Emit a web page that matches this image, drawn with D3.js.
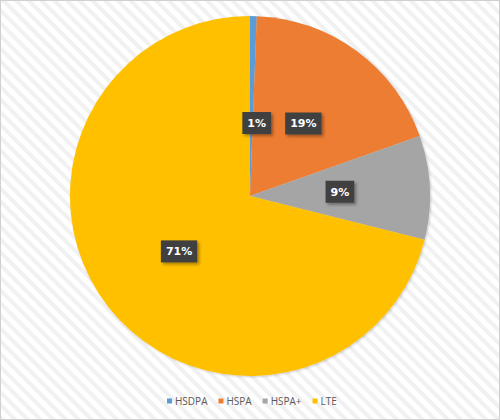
<!DOCTYPE html>
<html>
<head>
<meta charset="utf-8">
<script src="https://cdn.jsdelivr.net/npm/d3@7"></script>
<style>
  body { margin: 0; background: #fff; }
  #chart { width: 500px; height: 420px; }
</style>
</head>
<body>
<div id="chart"></div>
<script>
/*global d3*/

// network technology share
var categories = ["HSDPA", "HSPA", "HSPA+", "LTE"];
var values = [0.6, 19.0, 9.3, 71.1];
var colors = ["#5B9BD5", "#ED7D31", "#A5A5A5", "#FFC000"];

var width = 500,
  height = 420,
  cx = 250,
  cy = 196,
  r = 180;

var data = categories.map(function(c, i) {
  return {name: c, value: values[i], color: colors[i]};
});
var total = d3.sum(values);

var svg = d3.select("#chart").append("svg")
  .attr("width", width)
  .attr("height", height);

var defs = svg.append("defs");

// diagonal striped background
var pat = defs.append("pattern")
  .attr("id", "stripes")
  .attr("patternUnits", "userSpaceOnUse")
  .attr("width", 9)
  .attr("height", 9)
  .attr("patternTransform", "rotate(-45)");
pat.append("rect").attr("width", 9).attr("height", 9).attr("fill", "#ffffff");
pat.append("rect").attr("width", 4).attr("height", 9).attr("fill", "#f1f1f1");

var shadow = defs.append("filter").attr("id", "lblshadow")
  .attr("x", "-30%").attr("y", "-30%").attr("width", "170%").attr("height", "170%");
shadow.append("feDropShadow")
  .attr("dx", 2).attr("dy", 2).attr("stdDeviation", 1.5)
  .attr("flood-color", "#000").attr("flood-opacity", 0.35);

var pieShadow = defs.append("filter").attr("id", "pieshadow")
  .attr("x", "-10%").attr("y", "-10%").attr("width", "120%").attr("height", "120%");
pieShadow.append("feDropShadow")
  .attr("dx", 1).attr("dy", 1).attr("stdDeviation", 1.2)
  .attr("flood-color", "#000").attr("flood-opacity", 0.2);

svg.append("rect")
  .attr("x", 0.5).attr("y", 0.5)
  .attr("width", width - 1).attr("height", height - 1)
  .attr("fill", "url(#stripes)")
  .attr("stroke", "#d0d0d0");

var g = svg.append("g")
  .attr("transform", "translate(" + cx + "," + cy + ")");

var pie = d3.pie().sort(null).value(function(d) { return d.value; });
var arc = d3.arc().innerRadius(0).outerRadius(r);
var labelArc = d3.arc().innerRadius(r / 2).outerRadius(r / 2);

var arcs = pie(data);

g.append("g").attr("filter", "url(#pieshadow)")
  .selectAll("path")
  .data(arcs)
  .enter()
  .append("path")
  .attr("d", arc)
  .attr("fill", function(d) { return d.data.color; });

// data labels
var lbl = g.selectAll(".lbl")
  .data(arcs)
  .enter()
  .append("g")
  .attr("class", "lbl")
  .attr("transform", function(d, i) {
    var c = labelArc.centroid(d);
    if (i === 0) { c = [c[0] + 5, c[1] + 17]; } // tiny slice label nudged down
    return "translate(" + c[0] + "," + c[1] + ")";
  });

lbl.each(function(d) {
  var el = d3.select(this);
  var txt = Math.round(d.data.value / total * 100) + "%";
  var t = el.append("text")
    .attr("text-anchor", "middle")
    .attr("dy", "0.35em")
    .style("font-family", "'DejaVu Sans', sans-serif")
    .style("font-weight", "bold")
    .style("font-size", "11px")
    .style("fill", "#ffffff")
    .text(txt);
  var bb = t.node().getBBox();
  el.insert("rect", "text")
    .attr("x", bb.x - 5)
    .attr("y", -11)
    .attr("width", bb.width + 10)
    .attr("height", 22)
    .attr("fill", "#404040")
    .attr("filter", "url(#lblshadow)");
});

// legend
var legend = svg.append("g").attr("transform", "translate(0,401)");
var lx = 167;
data.forEach(function(d) {
  var item = legend.append("g").attr("transform", "translate(" + lx + ",0)");
  item.append("rect")
    .attr("x", 0).attr("y", -2.5)
    .attr("width", 5).attr("height", 5)
    .attr("fill", d.color);
  var t = item.append("text")
    .attr("x", 8)
    .attr("dy", "0.35em")
    .style("font-family", "'Open Sans', sans-serif")
    .style("font-size", "10px")
    .style("fill", "#595959")
    .text(d.name);
  lx += 8 + t.node().getComputedTextLength() + 11;
});
</script>
</body>
</html>
